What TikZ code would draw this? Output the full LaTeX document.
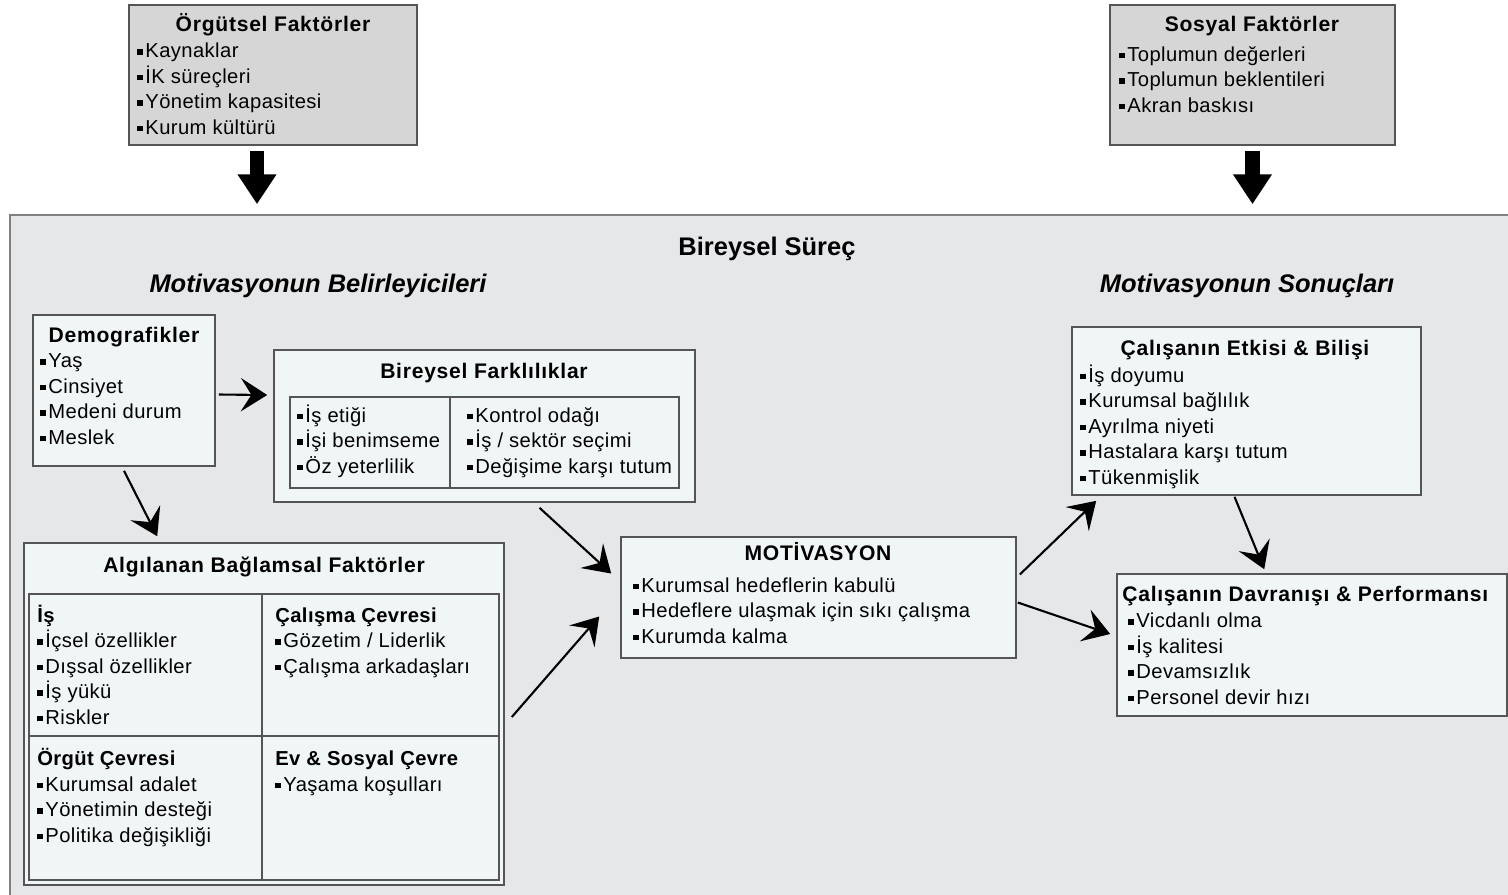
\documentclass[tikz,border=0pt]{standalone}
\usepackage{fontspec}
\setmainfont{Liberation Sans}
\usepackage{tikz}
\usetikzlibrary{arrows.meta,calc,fit}

\definecolor{boxgray}{RGB}{214,214,214}
\definecolor{panelgray}{RGB}{230,231,233}
\definecolor{boxlight}{RGB}{240,245,246}
\definecolor{edgegray}{RGB}{85,85,85}

\newcommand{\sq}{\rule[1.5pt]{3.2pt}{3.2pt}\hspace{1.4pt}}

\begin{document}
\begin{tikzpicture}[x=0.02cm,y=-0.02cm,
    facbox/.style={draw=edgegray,fill=boxgray,line width=0.9pt,inner sep=0pt},
    inbox/.style={draw=edgegray,fill=boxlight,line width=0.9pt,inner sep=0pt},
    panel/.style={draw=gray,fill=panelgray,line width=0.9pt,inner sep=0pt},
    ttl/.style={anchor=base,inner sep=0pt,font=\bfseries\fontsize{12}{14.5}\selectfont\addfontfeature{LetterSpace=3.5}},
    sect/.style={anchor=base,inner sep=0pt,font=\bfseries\fontsize{14.5}{17}\selectfont},
    itm/.style={anchor=base west,align=left,inner sep=0pt,font=\fontsize{11.5}{14.5}\selectfont\addfontfeature{LetterSpace=2}},
    arr/.style={line width=1.2pt,-{Stealth[length=15pt,width=19pt,inset=6pt]}},
    blockarr/.style={line width=8pt,-{Triangle[length=17pt,width=21pt]}}]
\useasboundingbox (0,0) rectangle (1508,894);

% outer factors (item lists are placed at the baseline of their last line)
\node[facbox,fit={(129,5) (417,145)}] (org) {};
\node[ttl] (orgT) at (273,31) {Örgütsel Faktörler};
\node[itm] (orgL) at (137,134) {\sq Kaynaklar\\ \sq İK süreçleri\\ \sq Yönetim kapasitesi\\ \sq Kurum kültürü};

\node[facbox,fit={(1110,5) (1395,145)}] (sos) {};
\node[ttl] (sosT) at (1252,31) {Sosyal Faktörler};
\node[itm] (sosL) at (1119,112) {\sq Toplumun değerleri\\ \sq Toplumun beklentileri\\ \sq Akran baskısı};

% individual process
\node[panel,fit={(10,215) (1530,910)}] (proc) {};
\node[sect] (procT) at (767,255) {Bireysel Süreç};
\node[sect,font=\bfseries\itshape\fontsize{14.5}{17}\selectfont] (detT) at (318,292) {Motivasyonun Belirleyicileri};
\node[sect,font=\bfseries\itshape\fontsize{14.5}{17}\selectfont] (resT) at (1247,292) {Motivasyonun Sonuçları};

\coordinate (orgout) at ($(org.south)+(-16,5)$);
\coordinate (sosout) at ($(sos.south)+(0,5)$);
\draw[blockarr,shorten >=5.7pt] (orgout) -- (orgout |- proc.north);
\draw[blockarr,shorten >=5.7pt] (sosout) -- (sosout |- proc.north);

% determinants
\node[inbox,fit={(33,315) (215,466)}] (demo) {};
\node[ttl] (demoT) at (124,342) {Demografikler};
\node[itm] (demoL) at (40,444) {\sq Yaş\\ \sq Cinsiyet\\ \sq Medeni durum\\ \sq Meslek};

\node[inbox,fit={(274,350) (695,502)}] (bf) {};
\node[ttl] (bfT) at (484,378) {Bireysel Farklılıklar};
\node[inbox,fit={(290,397) (679,488)}] (bfin) {};
\draw[edgegray,line width=0.9pt] ($(bfin.north west)+(161,0)$) -- ($(bfin.south west)+(161,0)$);
\node[itm] (bfL) at (297,473) {\sq İş etiği\\ \sq İşi benimseme\\ \sq Öz yeterlilik};
\node[itm] (bfR) at (467,473) {\sq Kontrol odağı\\ \sq İş / sektör seçimi\\ \sq Değişime karşı tutum};

\node[inbox,fit={(24,543) (504,885)}] (alg) {};
\node[ttl] (algT) at (264,572) {Algılanan Bağlamsal Faktörler};
\node[inbox,fit={(29,594) (499,880)}] (algin) {};
\draw[edgegray,line width=1.1pt] ($(algin.north west)+(234,0)$) -- ($(algin.south west)+(234,0)$);
\draw[edgegray,line width=1.1pt] ($(algin.north west)+(0,143)$) -- ($(algin.north east)+(0,143)$);
\node[itm] (isL) at (37,724) {\textbf{İş}\\ \sq İçsel özellikler\\ \sq Dışsal özellikler\\ \sq İş yükü\\ \sq Riskler};
\node[itm] (calL) at (275,673) {\textbf{Çalışma Çevresi}\\ \sq Gözetim / Liderlik\\ \sq Çalışma arkadaşları};
\node[itm] (orgcL) at (37,842) {\textbf{Örgüt Çevresi}\\ \sq Kurumsal adalet\\ \sq Yönetimin desteği\\ \sq Politika değişikliği};
\node[itm] (evL) at (275,791) {\textbf{Ev \& Sosyal Çevre}\\ \sq Yaşama koşulları};

% motivation
\node[inbox,fit={(621,537) (1016,658)}] (mot) {};
\node[ttl] (motT) at (818,560) {MOTİVASYON};
\node[itm] (motL) at (633,643) {\sq Kurumsal hedeflerin kabulü\\ \sq Hedeflere ulaşmak için sıkı çalışma\\ \sq Kurumda kalma};

% outcomes
\node[inbox,fit={(1072,327) (1421,495)}] (etk) {};
\node[ttl] (etkT) at (1245,355) {Çalışanın Etkisi \& Bilişi};
\node[itm] (etkL) at (1080,484) {\sq İş doyumu\\ \sq Kurumsal bağlılık\\ \sq Ayrılma niyeti\\ \sq Hastalara karşı tutum\\ \sq Tükenmişlik};

\node[inbox,fit={(1117,574) (1507,716)}] (dav) {};
\node[ttl,anchor=base west] (davT) at (1122,601) {Çalışanın Davranışı \& Performansı};
\node[itm] (davL) at (1128,704) {\sq Vicdanlı olma\\ \sq İş kalitesi\\ \sq Devamsızlık\\ \sq Personel devir hızı};

% connectors
\draw[arr] ($(demo.east)+(3,4)$) -- ($(bf.west)+(-6,-31)$);
\draw[arr] ($(demo.south)+(0,4)$) -- ($(alg.north west)+(134,-6)$);
\draw[arr] ($(bf.south)+(55,5)$) -- ($(mot.west)+(-9,-24)$);
\draw[arr] ($(alg.east)+(7,3)$) -- ($(mot.west)+(-21,19)$);
\draw[arr] ($(mot.east)+(3,-23)$) -- ($(etk.south west)+(25,5)$);
\draw[arr] ($(mot.east)+(1,5)$) -- ($(dav.west)+(-6,-11)$);
\draw[arr] ($(etk.south)+(-12,1)$) -- ($(dav.north west)+(148,-4)$);
\end{tikzpicture}
\end{document}
